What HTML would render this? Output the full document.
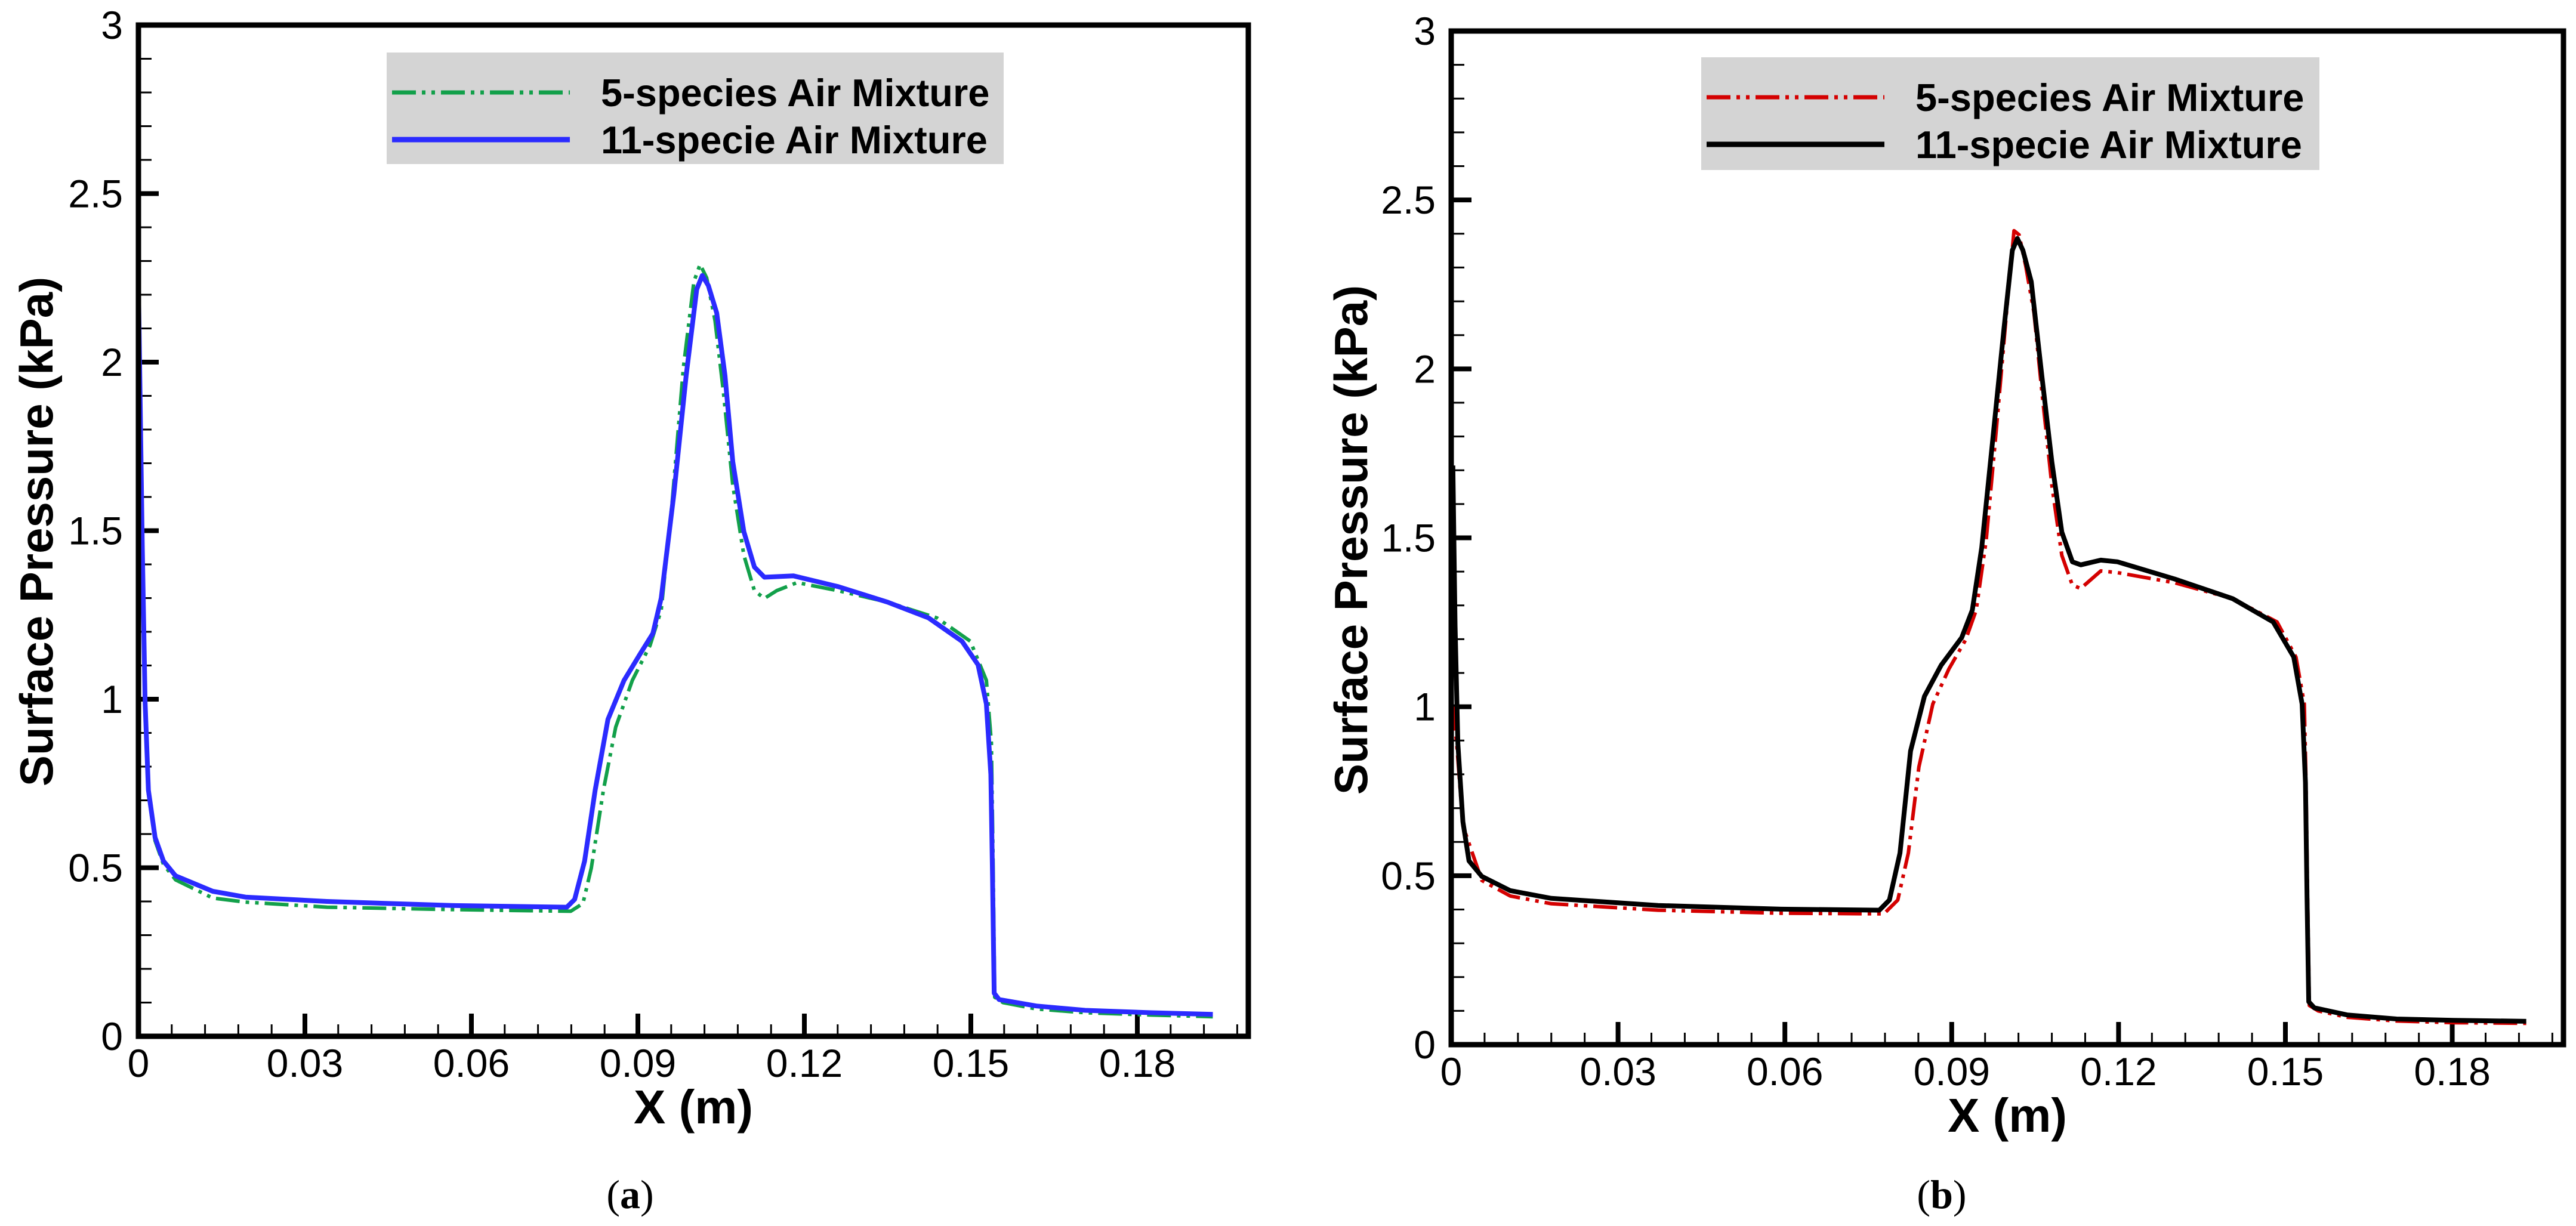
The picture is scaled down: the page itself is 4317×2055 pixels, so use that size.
<!DOCTYPE html>
<html><head><meta charset="utf-8"><style>
html,body{margin:0;padding:0;background:#fff;}
svg{display:block;}
text{font-family:"Liberation Sans",Arial,sans-serif;}
</style></head><body>
<svg id="fig" width="4317" height="2055" viewBox="0 0 4317 2055" xmlns="http://www.w3.org/2000/svg">
<g id="panelA"></g>
<g id="panelB"></g>
</svg>
<script>
// Panel (a) data
const a5x = [0,0.0007,0.0012,0.0018,0.003,0.0045,0.0067,0.0134,0.0193,0.034,0.0564,0.0779,0.0801,0.0816,0.0838,0.086,0.089,0.0922,0.0942,0.0962,0.0982,0.1001,0.1012,0.1024,0.1039,0.1054,0.1071,0.1091,0.111,0.1128,0.115,0.1187,0.1261,0.135,0.1439,0.1499,0.1528,0.1537,0.154,0.1543,0.1558,0.1618,0.1706,0.1825,0.1936];
const a5y = [2.2,1.43,0.97,0.72,0.58,0.51,0.464,0.41,0.398,0.383,0.376,0.371,0.394,0.499,0.731,0.917,1.056,1.16,1.265,1.589,1.984,2.239,2.29,2.25,2.123,1.914,1.636,1.427,1.322,1.299,1.322,1.346,1.322,1.288,1.241,1.172,1.056,0.87,0.522,0.116,0.1,0.081,0.07,0.063,0.058];
const a11x = [0,0.0007,0.0012,0.0018,0.003,0.0045,0.0067,0.0134,0.0193,0.034,0.0564,0.0772,0.0786,0.0804,0.0823,0.0846,0.0875,0.0905,0.0927,0.0942,0.0965,0.0987,0.1006,0.1016,0.1027,0.1042,0.1057,0.1071,0.1091,0.111,0.1128,0.118,0.1261,0.135,0.1424,0.1484,0.1513,0.1528,0.1536,0.1539,0.1542,0.1551,0.1618,0.1706,0.1825,0.1936];
const a11y = [2.23,1.45,0.99,0.73,0.59,0.52,0.476,0.43,0.413,0.4,0.388,0.383,0.406,0.52,0.73,0.94,1.056,1.137,1.195,1.3,1.61,1.96,2.216,2.257,2.227,2.146,1.96,1.705,1.497,1.392,1.362,1.366,1.334,1.288,1.241,1.172,1.102,0.986,0.777,0.476,0.128,0.109,0.09,0.077,0.07,0.065];
// Panel (b) data
const b5x = [0.0003,0.001,0.0021,0.0055,0.0106,0.018,0.0372,0.0593,0.0778,0.0803,0.0822,0.0841,0.0866,0.0895,0.0925,0.0944,0.0962,0.098,0.0999,0.1012,0.1021,0.1033,0.1048,0.1062,0.108,0.1098,0.1117,0.1132,0.1168,0.1198,0.1301,0.1405,0.1485,0.1519,0.1534,0.1537,0.154,0.1543,0.1559,0.1611,0.17,0.1803,0.1933];
const b5y = [1.0,0.89,0.648,0.486,0.44,0.417,0.398,0.389,0.387,0.428,0.567,0.822,1.008,1.112,1.198,1.286,1.494,1.818,2.177,2.409,2.397,2.305,2.166,1.934,1.656,1.448,1.36,1.35,1.402,1.397,1.367,1.32,1.251,1.147,1.008,0.776,0.429,0.116,0.1,0.081,0.07,0.065,0.063];
const b11x = [0.0003,0.0007,0.0012,0.0021,0.0032,0.0055,0.0106,0.018,0.0372,0.0593,0.077,0.0788,0.0807,0.0826,0.0851,0.0881,0.0918,0.0937,0.0954,0.0974,0.0994,0.1009,0.1018,0.1028,0.1043,0.1062,0.108,0.1098,0.1117,0.1132,0.1168,0.1198,0.1301,0.1405,0.1478,0.1515,0.153,0.1536,0.1539,0.1542,0.1552,0.1611,0.17,0.1803,0.1933];
const b11y = [1.714,1.24,0.89,0.66,0.544,0.498,0.456,0.433,0.412,0.401,0.398,0.428,0.567,0.869,1.031,1.123,1.205,1.286,1.471,1.795,2.12,2.351,2.386,2.351,2.258,1.98,1.725,1.517,1.429,1.42,1.434,1.429,1.378,1.32,1.251,1.147,1.008,0.776,0.429,0.127,0.109,0.088,0.076,0.072,0.069];
const xTickLabels = ["0","0.03","0.06","0.09","0.12","0.15","0.18"];
const yTickLabels = ["0","0.5","1","1.5","2","2.5","3"];
const legendLabels = ["5-species Air Mixture","11-specie Air Mixture"];

const NS = "http://www.w3.org/2000/svg";
function mk(tag, parent, attrs){
  const e = document.createElementNS(NS, tag);
  for (const k in attrs) e.setAttribute(k, attrs[k]);
  parent.appendChild(e);
  return e;
}
function drawPanel(g, P){
  const sx = v => P.x0 + (v / P.xmax) * (P.x1 - P.x0);
  const sy = v => P.y1 - (v / 3) * (P.y1 - P.y0);
  for (let i = 0; i <= 30; i++){
    const v = i * 0.1, major = (i % 5 === 0);
    const t = mk("line", g, {x1:P.x0, x2:P.x0 + (major?34:22), y1:sy(v), y2:sy(v), stroke:"#000", "stroke-width": major?8:3});
    
    
  }
  for (let i = 0; i * 0.006 <= P.xmax + 1e-9; i++){
    const v = i * 0.006, major = (i % 5 === 0);
    const t = mk("line", g, {x1:sx(v), x2:sx(v), y1:P.y1, y2:P.y1 - (major?38:20), stroke:"#000", "stroke-width": major?8:3});
    
    
  }
  yTickLabels.forEach((lab, i) => {
    const t = mk("text", g, {x:P.x0 - 26, y:sy(i*0.5) + 23, "text-anchor":"end", "font-size":66, fill:"#000"});
    t.textContent = lab;
    
    
  });
  xTickLabels.forEach((lab, i) => {
    const t = mk("text", g, {x:sx(i*0.03), y:P.y1 + 68, "text-anchor":"middle", "font-size":66, fill:"#000"});
    t.textContent = lab;
    
    
  });
  const path = (xs, ys) => xs.map((x,i) => (i?"L":"M") + sx(x).toFixed(1) + "," + sy(ys[i]).toFixed(1)).join("");
  const s1 = mk("path", g, {d:path(P.d5x, P.d5y), fill:"none", stroke:P.c5, "stroke-width":6, "stroke-dasharray":"40 10 6 10 6 10", "stroke-linejoin":"round"});
  
  
  const s2 = mk("path", g, {d:path(P.d11x, P.d11y), fill:"none", stroke:P.c11, "stroke-width":8, "stroke-linejoin":"round"});
  
  
  const f = mk("rect", g, {x:P.x0, y:P.y0, width:P.x1-P.x0, height:P.y1-P.y0, fill:"none", stroke:"#000", "stroke-width":9});
  
  
  const lg = mk("g", g, {});
  
  
  mk("rect", lg, {x:P.lx, y:P.ly, width:P.lw, height:P.lh, fill:"#d4d4d4"});
  const l1 = mk("line", lg, {x1:P.lx+9, x2:P.lx+307, y1:P.ly+67, y2:P.ly+67, stroke:P.c5, "stroke-width":7, "stroke-dasharray":"40 10 6 10 6 10"});
  
  
  const l2 = mk("line", lg, {x1:P.lx+9, x2:P.lx+307, y1:P.ly+146, y2:P.ly+146, stroke:P.c11, "stroke-width":9});
  
  
  legendLabels.forEach((lab, i) => {
    const t = mk("text", lg, {x:P.lx+359, y:P.ly + 90 + i*79, "font-size":65, "font-weight":"bold", fill:"#000"});
    t.textContent = lab;
    
    
  });
  const xt = mk("text", g, {x:P.xtx, y:P.xty + 28, "text-anchor":"middle", "font-size":80, "font-weight":"bold", fill:"#000"});
  xt.textContent = "X (m)";
  
  
  const yt = mk("text", g, {x:0, y:0, "text-anchor":"middle", "font-size":78, "font-weight":"bold", fill:"#000", transform:"translate(" + (P.ytx+28) + "," + P.yty + ") rotate(-90)"});
  yt.textContent = "Surface Pressure (kPa)";
  
  
  const cap = mk("text", g, {x:P.capx, y:2025, "text-anchor":"middle", "font-size":68, fill:"#000", style:"font-family:'Liberation Serif',serif"});
  cap.innerHTML = "(<tspan font-weight='bold'>" + P.cap + "</tspan>)";
  
  
}
drawPanel(document.getElementById("panelA"), {x0:232, x1:2092, y0:42, y1:1737, xmax:0.2,
  d5x:a5x, d5y:a5y, d11x:a11x, d11y:a11y, c5:"#12a04a", c11:"#2b2bff",
  lx:648, ly:88, lw:1034, lh:187, xtx:1162, xty:1855, ytx:60, yty:891, capx:1056, cap:"a"});
drawPanel(document.getElementById("panelB"), {x0:2432, x1:4296, y0:52, y1:1751, xmax:0.2,
  d5x:b5x, d5y:b5y, d11x:b11x, d11y:b11y, c5:"#d40000", c11:"#000000",
  lx:2851, ly:96, lw:1036, lh:189, xtx:3364, xty:1869, ytx:2263, yty:905, capx:3254, cap:"b"});
</script>
</body></html>
